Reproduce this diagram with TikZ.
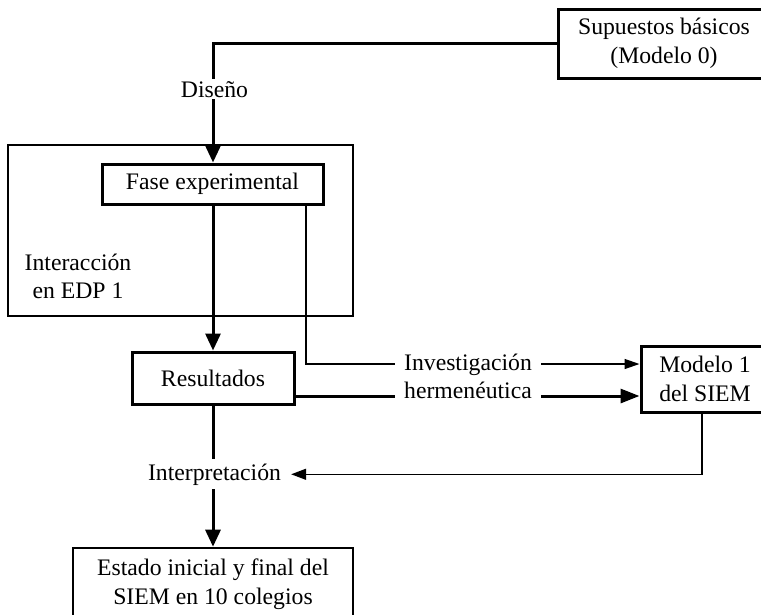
\documentclass[tikz,border=0pt]{standalone}
\usepackage{fontspec}
\setmainfont{Liberation Serif}
\usetikzlibrary{arrows.meta,calc}
\tikzset{
  txt/.style={font=\fontsize{23.7}{28.5}\selectfont},
  box/.style={txt, draw, line width=3pt, align=center, inner sep=0pt},
  lbl/.style={txt, fill=white, inner xsep=9pt, inner ysep=3pt},
  thickline/.style={line width=3pt},
  thinline/.style={line width=1.4pt},
  bigtip/.style={-{Triangle[length=17pt,width=15pt]}},
  smalltip/.style={-{Triangle[length=15pt,width=10pt]}}
}
\begin{document}
\begin{tikzpicture}[x=1pt,y=-1pt]
\useasboundingbox (0,0) rectangle (761,614);
\clip (0,0) rectangle (761,614);
% boxes
\node[box, minimum width=212pt, minimum height=69pt] (sup) at (664,43.5) {Supuestos básicos\\(Modelo 0)};
\node[draw, line width=2.2pt, minimum width=345pt, minimum height=171pt, inner sep=0pt] (outer) at (180.5,230.5) {};
\node[box, minimum width=221pt, minimum height=40pt] (fase) at (212.5,184) {Fase experimental};
\node[txt, align=center, inner sep=0pt] (inter) at (78,276.5) {Interacción\\en EDP 1};
\node[box, minimum width=162pt, minimum height=52pt] (res) at (213,378) {Resultados};
\node[box, minimum width=128pt, minimum height=66pt] (mod) at (705,379) {Modelo 1\\del SIEM};
\node[box, line width=2.6pt, minimum width=280pt, minimum height=72pt] (fin) at (213,584) {Estado inicial y final del\\SIEM en 10 colegios};
\node[txt, inner xsep=10pt, inner ysep=4pt, anchor=base] (interp) at (214.5,480) {Interpretación};
% coordinates
\coordinate (t1) at (306,204);
\coordinate (yinv) at (0,364);
\coordinate (yher) at (0,396);
\coordinate (xdis) at (213,0);
% connectors
\draw[thickline, bigtip] (sup.west) -| (xdis |- fase.north);
\node[lbl, inner ysep=2pt, anchor=base] (dis) at (214.5,97) {Diseño};
\draw[thickline, bigtip] (xdis |- fase.south) -- (xdis |- res.north);
\draw[thinline, smalltip] (t1) |- (mod.west |- yinv);
\node[lbl, anchor=base] (inv) at (468,370) {Investigación};
\draw[thickline, -{Triangle[length=19pt,width=14pt]}] (res.east |- yher) -- (mod.west |- yher);
\node[lbl, anchor=base] (her) at (468,398) {hermenéutica};
\draw[thickline] (xdis |- res.south) -- (xdis |- interp.north);
\draw[thickline, bigtip] (xdis |- interp.south) -- (xdis |- fin.north);
\draw[thinline, -{Triangle[length=15pt,width=11pt]}] (702,412) |- (interp.east);
\end{tikzpicture}
\end{document}
